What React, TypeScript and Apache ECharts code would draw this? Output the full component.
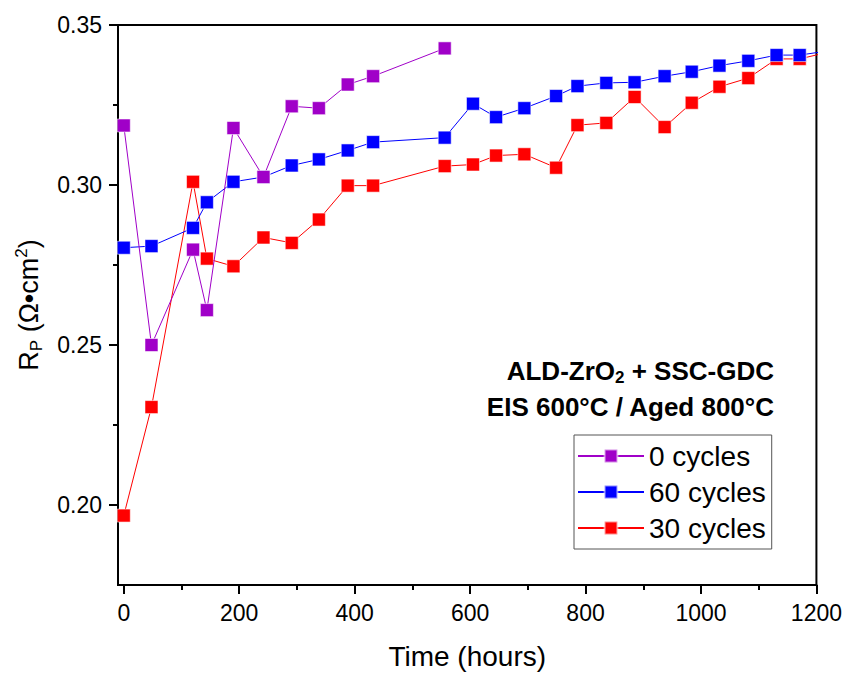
import React, { useEffect, useRef } from 'react';
import * as echarts from 'echarts';

const FONT = 'Liberation Sans, Arial, sans-serif';

// Time (hours)
const hoursAll = [0, 48, 120, 144, 190, 242, 291, 338, 388, 432, 556, 605, 645, 694, 749, 786, 836, 885, 937, 984, 1032, 1082, 1131, 1171, 1220];
const hours0 = [0, 48, 120, 144, 190, 242, 291, 338, 388, 432, 556];

// R_P values
const rp0 = [0.3186, 0.2500, 0.2798, 0.2609, 0.3178, 0.3025, 0.3246, 0.3240, 0.3314, 0.3340, 0.3427];
const rp60 = [0.2804, 0.2809, 0.2866, 0.2946, 0.3010, 0.3025, 0.3061, 0.3080, 0.3108, 0.3134, 0.3148, 0.3254, 0.3212, 0.3240, 0.3278, 0.3309, 0.3319, 0.3321, 0.3340, 0.3354, 0.3373, 0.3388, 0.3406, 0.3406, 0.3419];
const rp30 = [0.1967, 0.2306, 0.3010, 0.2770, 0.2746, 0.2836, 0.2819, 0.2892, 0.2998, 0.2998, 0.3059, 0.3064, 0.3092, 0.3096, 0.3054, 0.3187, 0.3194, 0.3275, 0.3181, 0.3257, 0.3307, 0.3334, 0.3394, 0.3394, 0.3415];

const seriesNames = ['0 cycles', '60 cycles', '30 cycles'];
const seriesColors = ['#A000C8', '#0000FF', '#FF0000'];

const xMajorTicks = [0, 200, 400, 600, 800, 1000, 1200];
const xMinorTicks = [100, 300, 500, 700, 900, 1100];
const yMajorTicks = [0.2, 0.25, 0.3, 0.35];
const yMinorTicks = [0.225, 0.275, 0.325];

const pairs = (xs: number[], ys: number[]) => xs.map((x, i) => [x, ys[i]]);

export default function App() {
  const ref = useRef<HTMLDivElement>(null);
  useEffect(() => {
    if (!ref.current) return;
    const chart = echarts.init(ref.current, null, { renderer: 'svg' });
    const mkSeries = (idx: number, data: number[][], z: number) => ({
      name: seriesNames[idx],
      type: 'line',
      data,
      z,
      symbol: 'rect',
      symbolSize: 13,
      clip: true,
      lineStyle: { color: seriesColors[idx], width: 1 },
      itemStyle: { color: seriesColors[idx], borderColor: 'rgba(255,255,255,0.55)', borderWidth: 1 },
      emphasis: { disabled: true },
    });
    const axisLine = { show: true, onZero: false, lineStyle: { color: '#000', width: 2 } };
    chart.setOption({
      animation: false,
      backgroundColor: '#fff',
      grid: { left: 118, right: 28, top: 25, bottom: 88, show: true, borderColor: '#000', borderWidth: 2, backgroundColor: 'transparent' },
      xAxis: [
        {
          type: 'value', min: -10, max: 1200, position: 'bottom',
          axisLine,
          splitLine: { show: false },
          axisTick: { show: true, customValues: xMajorTicks, length: 9, lineStyle: { color: '#000', width: 2 } },
          axisLabel: { customValues: xMajorTicks, fontSize: 23, fontFamily: FONT, color: '#000', margin: 16, formatter: (v: number) => String(v) },
          name: 'Time (hours)', nameLocation: 'middle', nameGap: 57,
          nameTextStyle: { fontSize: 28, fontFamily: FONT, color: '#000' },
        },
        {
          type: 'value', min: -10, max: 1200, position: 'bottom',
          axisLine: { show: false, onZero: false },
          splitLine: { show: false },
          axisTick: { show: true, customValues: xMinorTicks, length: 5, lineStyle: { color: '#000', width: 2 } },
          axisLabel: { show: false },
        },
      ],
      yAxis: [
        {
          type: 'value', min: 0.175, max: 0.35, position: 'left',
          axisLine,
          splitLine: { show: false },
          axisTick: { show: true, customValues: yMajorTicks, length: 9, lineStyle: { color: '#000', width: 2 } },
          axisLabel: { customValues: yMajorTicks, fontSize: 23, fontFamily: FONT, color: '#000', margin: 16, formatter: (v: number) => v.toFixed(2) },
          name: '{a|R}{s|P}{a| (Ω•cm}{p|2}{a|)}', nameLocation: 'middle', nameGap: 73,
          nameTextStyle: {
            fontSize: 27, fontFamily: FONT, color: '#000', lineHeight: 32,
            rich: {
              a: { fontSize: 27, fontFamily: FONT, color: '#000', lineHeight: 32 },
              s: { fontSize: 17, fontFamily: FONT, color: '#000', lineHeight: 17, verticalAlign: 'bottom' },
              p: { fontSize: 17, fontFamily: FONT, color: '#000', lineHeight: 17, verticalAlign: 'top' },
            },
          },
        },
        {
          type: 'value', min: 0.175, max: 0.35, position: 'left',
          axisLine: { show: false, onZero: false },
          splitLine: { show: false },
          axisTick: { show: true, customValues: yMinorTicks, length: 5, lineStyle: { color: '#000', width: 2 } },
          axisLabel: { show: false },
        },
      ],
      legend: {
        data: seriesNames,
        orient: 'vertical',
        left: 574, top: 435,
        padding: [7, 6, 7, 3],
        itemGap: 8,
        itemWidth: 66, itemHeight: 16,
        borderColor: '#555', borderWidth: 1,
        backgroundColor: '#fff',
        textStyle: { fontSize: 28, fontFamily: FONT, color: '#000', lineHeight: 28 },
        selectedMode: false,
      },
      graphic: [
        {
          type: 'text', x: 774, y: 371, z: 100,
          style: {
            text: '{b|ALD-ZrO}{s|2}{b| + SSC-GDC}',
            align: 'right', verticalAlign: 'middle', fill: '#000',
            font: `bold 26px ${FONT}`,
            rich: {
              b: { fontSize: 26, fontWeight: 'bold', fontFamily: FONT, lineHeight: 30, fill: '#000' },
              s: { fontSize: 17, fontWeight: 'bold', fontFamily: FONT, lineHeight: 17, verticalAlign: 'bottom', fill: '#000' },
            },
          },
        },
        {
          type: 'text', x: 774, y: 407, z: 100,
          style: {
            text: 'EIS 600°C / Aged 800°C',
            align: 'right', verticalAlign: 'middle', fill: '#000',
            fontSize: 26, fontWeight: 'bold', fontFamily: FONT,
          },
        },
      ],
      series: [
        mkSeries(2, pairs(hoursAll, rp30), 2),
        mkSeries(1, pairs(hoursAll, rp60), 3),
        mkSeries(0, pairs(hours0, rp0), 4),
      ],
    });
    return () => chart.dispose();
  }, []);
  return <div ref={ref} style={{ position: 'fixed', left: 0, top: 0, width: 845, height: 675 }} />;
}
